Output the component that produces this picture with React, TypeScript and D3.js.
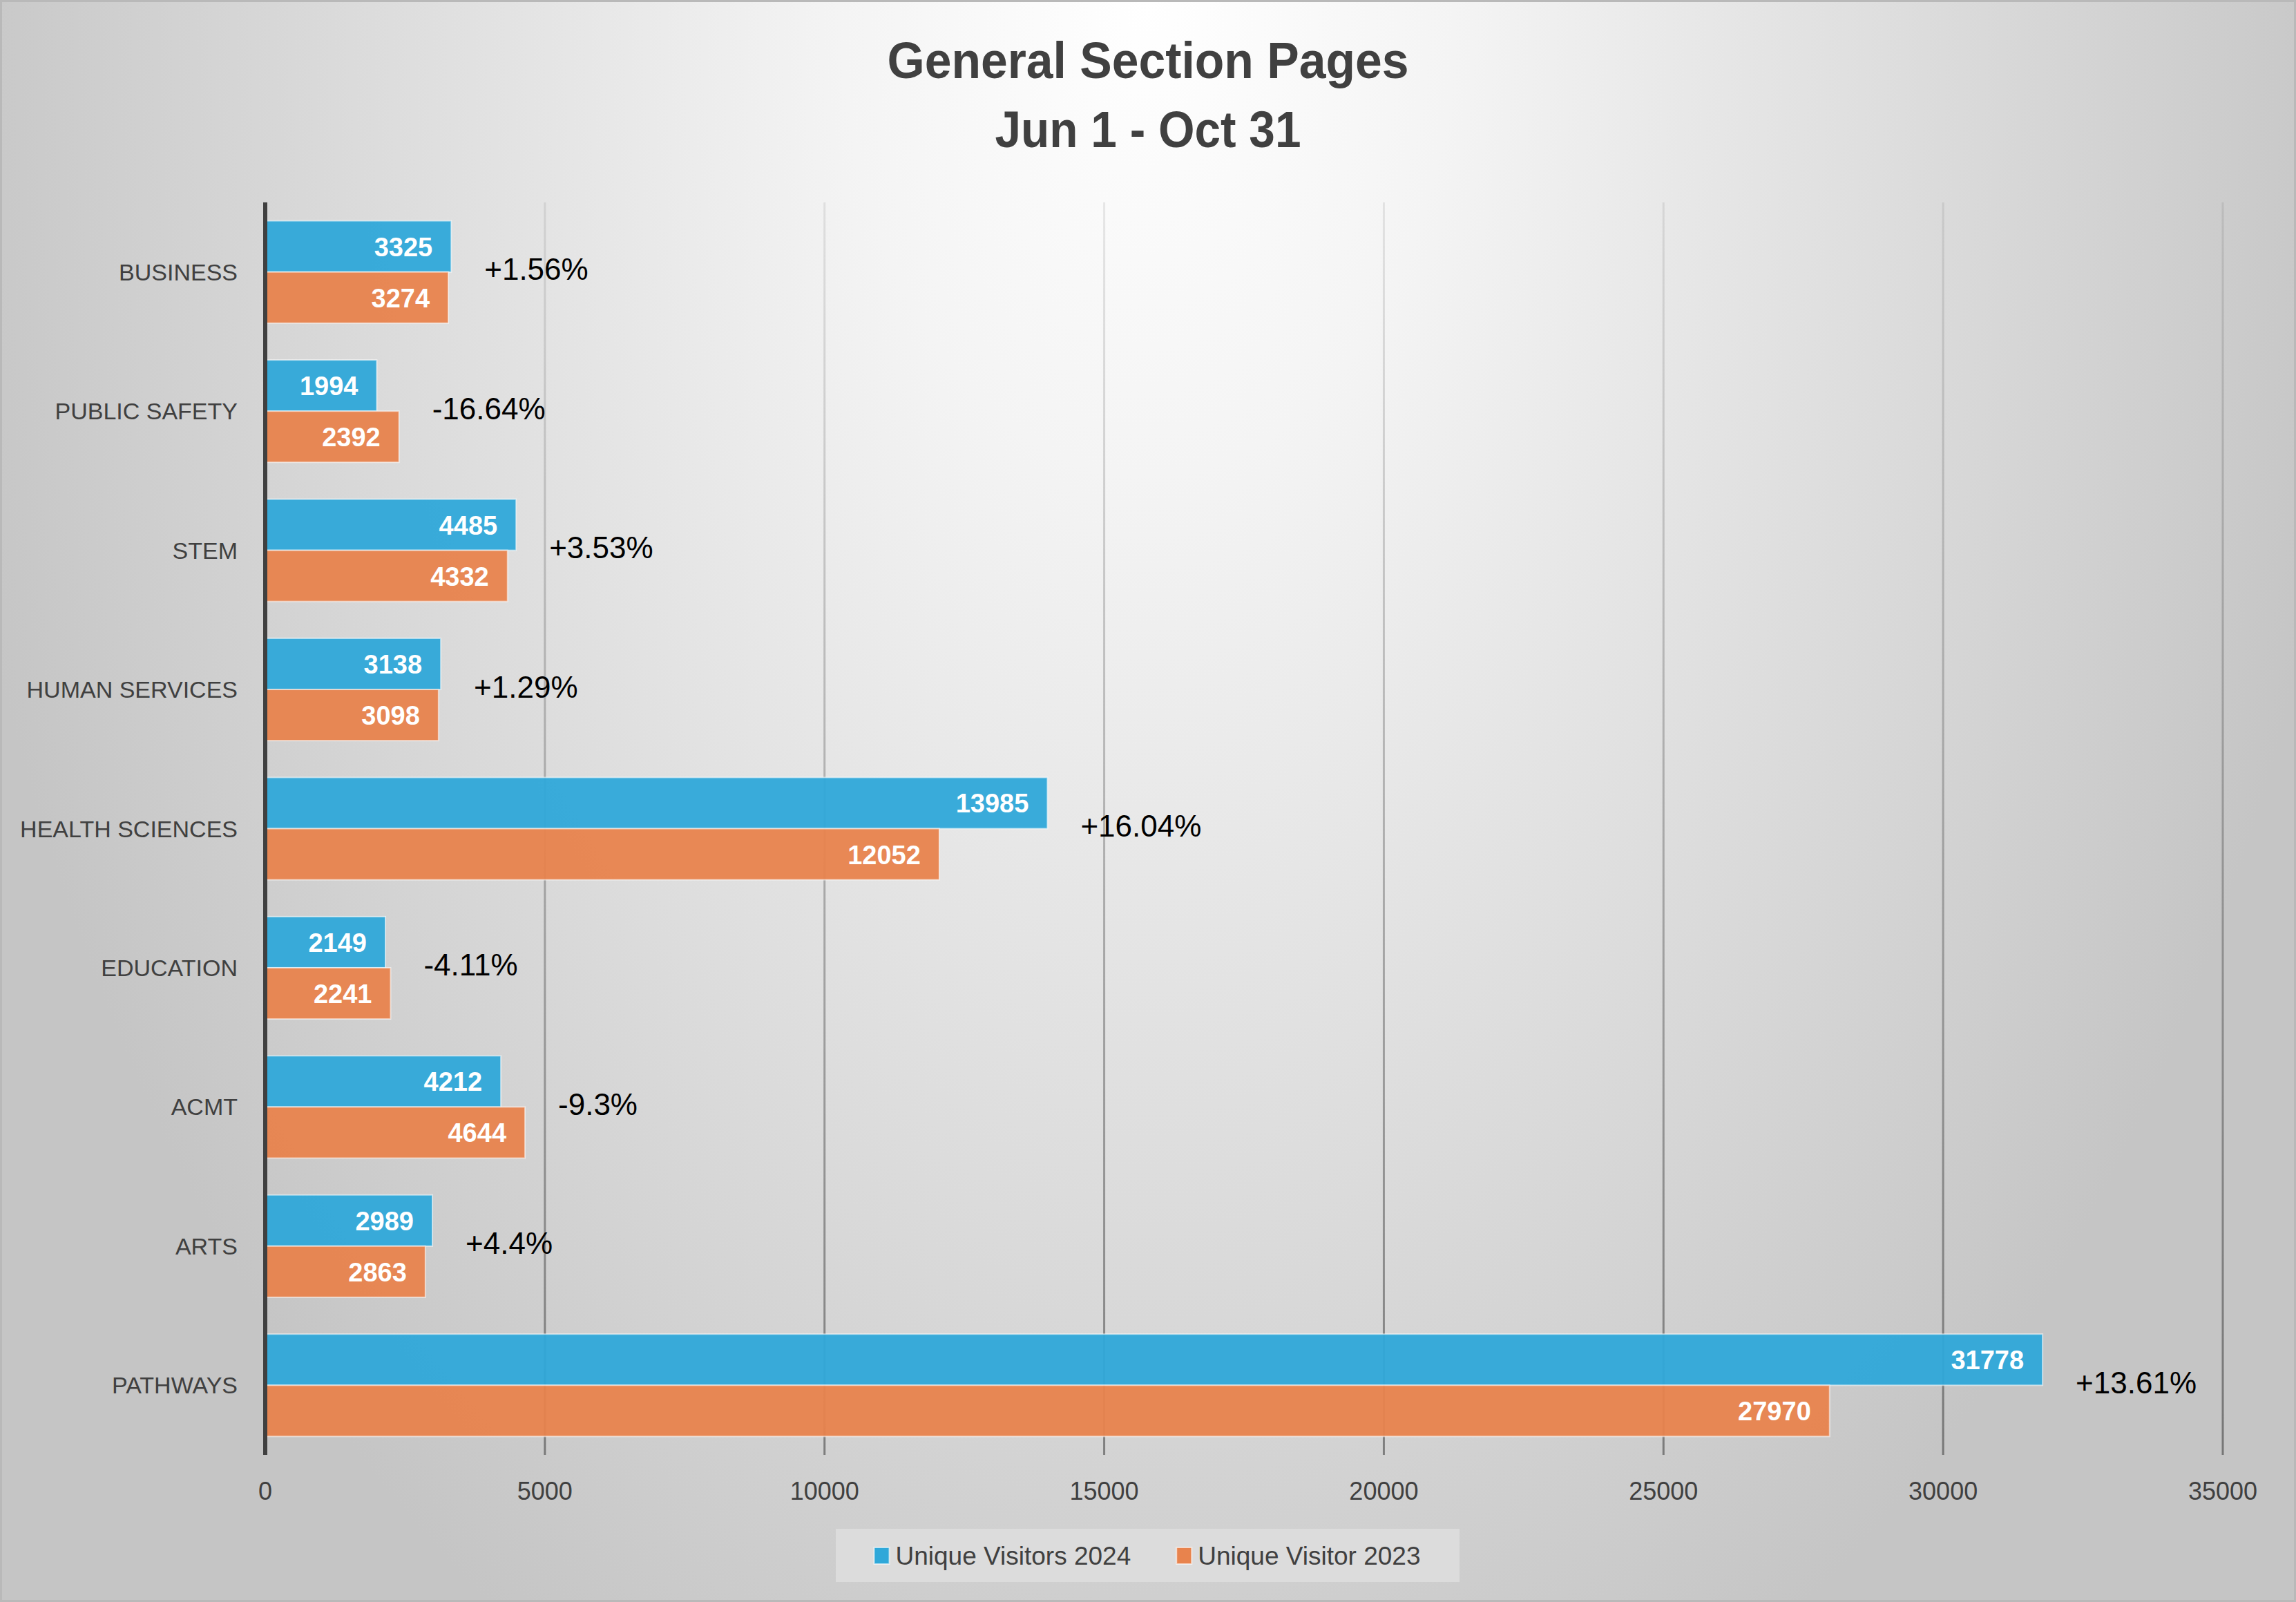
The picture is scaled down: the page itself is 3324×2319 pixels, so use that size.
import React, { useEffect, useRef } from "react";
import * as d3 from "d3";

const categories = [
  "BUSINESS",
  "PUBLIC SAFETY",
  "STEM",
  "HUMAN SERVICES",
  "HEALTH SCIENCES",
  "EDUCATION",
  "ACMT",
  "ARTS",
  "PATHWAYS",
];
const visitors2024 = [3325, 1994, 4485, 3138, 13985, 2149, 4212, 2989, 31778];
const visitors2023 = [3274, 2392, 4332, 3098, 12052, 2241, 4644, 2863, 27970];
const changeLabels = ["+1.56%", "-16.64%", "+3.53%", "+1.29%", "+16.04%", "-4.11%", "-9.3%", "+4.4%", "+13.61%"];
const xTicks = [0, 5000, 10000, 15000, 20000, 25000, 30000, 35000];
const seriesNames = ["Unique Visitors 2024", "Unique Visitor 2023"];
const seriesColors = ["#2fa8d9", "#e8834d"];
const titleLines = ["General Section Pages", "Jun 1 - Oct 31"];

const W = 3324;
const H = 2319;

const App: React.FC = () => {
  const svgRef = useRef<SVGSVGElement>(null);

  useEffect(() => {
    document.body.style.margin = "0";
    if (!svgRef.current) return;
    const svg = d3.select(svgRef.current);
    svg.selectAll("*").remove();

    const left = 384;
    const right = 3218;
    const top = 293;
    const bottom = 2106;
    const font = "'Liberation Sans', Arial, sans-serif";

    const defs = svg.append("defs");
    const bg = defs
      .append("radialGradient")
      .attr("id", "bg")
      .attr("gradientUnits", "userSpaceOnUse")
      .attr("cx", 0)
      .attr("cy", 0)
      .attr("r", 1)
      .attr("gradientTransform", `translate(${W / 2},0) scale(1780,2750)`);
    bg.append("stop").attr("offset", 0).attr("stop-color", "#ffffff");
    bg.append("stop").attr("offset", 0.25).attr("stop-color", "#f4f4f4");
    bg.append("stop").attr("offset", 0.6).attr("stop-color", "#dedede");
    bg.append("stop").attr("offset", 1).attr("stop-color", "#c5c5c5");

    const gridGrad = defs
      .append("linearGradient")
      .attr("id", "gridGrad")
      .attr("gradientUnits", "userSpaceOnUse")
      .attr("x1", 0)
      .attr("x2", 0)
      .attr("y1", top)
      .attr("y2", bottom);
    gridGrad.append("stop").attr("offset", 0).attr("stop-color", "#000").attr("stop-opacity", 0.08);
    gridGrad.append("stop").attr("offset", 1).attr("stop-color", "#000").attr("stop-opacity", 0.4);

    svg.append("rect").attr("width", W).attr("height", H).attr("fill", "url(#bg)");
    svg
      .append("rect")
      .attr("x", 1.5)
      .attr("y", 1.5)
      .attr("width", W - 3)
      .attr("height", H - 3)
      .attr("fill", "none")
      .attr("stroke", "#b9b9b9")
      .attr("stroke-width", 3);

    // Title (condensed look via textLength)
    const titleWidths = [755, 443];
    titleLines.forEach((line, i) => {
      svg
        .append("text")
        .attr("x", W / 2)
        .attr("y", 113 + i * 100)
        .attr("text-anchor", "middle")
        .attr("fill", "#404040")
        .attr("textLength", titleWidths[i])
        .attr("lengthAdjust", "spacingAndGlyphs")
        .style("font-family", font)
        .style("font-weight", "700")
        .style("font-size", "75px")
        .text(line);
    });

    const x = d3.scaleLinear().domain([0, 35000]).range([left, right]);
    const y = d3.scaleBand<string>().domain(categories).range([top, bottom]).padding(0);
    const sub = d3
      .scaleBand<number>()
      .domain([0, 1])
      .range([0, y.bandwidth()])
      .paddingInner(0)
      .paddingOuter(0.36);

    // Gridlines
    svg
      .append("g")
      .selectAll("line")
      .data(xTicks.filter((t) => t > 0))
      .enter()
      .append("line")
      .attr("x1", (d) => x(d))
      .attr("x2", (d) => x(d))
      .attr("y1", top)
      .attr("y2", bottom)
      .attr("stroke", "url(#gridGrad)")
      .attr("stroke-width", 3);

    // Tick labels
    svg
      .append("g")
      .selectAll("text")
      .data(xTicks)
      .enter()
      .append("text")
      .attr("x", (d) => x(d))
      .attr("y", 2158)
      .attr("text-anchor", "middle")
      .attr("dominant-baseline", "central")
      .attr("fill", "#404040")
      .style("font-family", font)
      .style("font-size", "36px")
      .text((d) => String(d));

    // Bars
    const series = [visitors2024, visitors2023];
    series.forEach((vals, si) => {
      const g = svg.append("g");
      g.selectAll("rect")
        .data(vals)
        .enter()
        .append("rect")
        .attr("x", x(0))
        .attr("y", (_, i) => (y(categories[i]) as number) + (sub(si) as number))
        .attr("width", (d) => x(d) - x(0))
        .attr("height", sub.bandwidth())
        .attr("fill", seriesColors[si])
        .attr("fill-opacity", 0.95)
        .attr("stroke", "rgba(255,255,255,0.55)")
        .attr("stroke-width", 2);

      g.selectAll("text")
        .data(vals)
        .enter()
        .append("text")
        .attr("x", (d) => x(d) - 27)
        .attr("y", (_, i) => (y(categories[i]) as number) + (sub(si) as number) + sub.bandwidth() / 2 + 1)
        .attr("text-anchor", "end")
        .attr("dominant-baseline", "central")
        .attr("fill", "#ffffff")
        .style("font-family", font)
        .style("font-weight", "700")
        .style("font-size", "38px")
        .text((d) => String(d));
    });

    // Axis line
    svg
      .append("line")
      .attr("x1", x(0))
      .attr("x2", x(0))
      .attr("y1", top)
      .attr("y2", bottom)
      .attr("stroke", "#404040")
      .attr("stroke-width", 6);

    // Category labels
    svg
      .append("g")
      .selectAll("text")
      .data(categories)
      .enter()
      .append("text")
      .attr("x", 344)
      .attr("y", (d) => (y(d) as number) + y.bandwidth() / 2)
      .attr("text-anchor", "end")
      .attr("dominant-baseline", "central")
      .attr("fill", "#404040")
      .style("font-family", font)
      .style("font-size", "34px")
      .text((d) => d);

    // Change labels
    svg
      .append("g")
      .selectAll("text")
      .data(changeLabels)
      .enter()
      .append("text")
      .attr("x", (_, i) => x(Math.max(visitors2024[i], visitors2023[i])) + 48)
      .attr("y", (_, i) => (y(categories[i]) as number) + y.bandwidth() / 2 - 4)
      .attr("dominant-baseline", "central")
      .attr("fill", "#000000")
      .style("font-family", font)
      .style("font-size", "44px")
      .text((d) => d);

    // Legend
    const legend = svg.append("g");
    legend
      .append("rect")
      .attr("x", 1210)
      .attr("y", 2213)
      .attr("width", 903)
      .attr("height", 77)
      .attr("fill", "#dedede")
      .attr("fill-opacity", 0.85);
    const items = legend.append("g");
    let cx = 0;
    seriesNames.forEach((name, i) => {
      const it = items.append("g").attr("transform", `translate(${cx},0)`);
      it.append("rect")
        .attr("x", 0)
        .attr("y", -12)
        .attr("width", 22)
        .attr("height", 24)
        .attr("fill", seriesColors[i])
        .attr("stroke", "rgba(255,255,255,0.6)")
        .attr("stroke-width", 2);
      const t = it
        .append("text")
        .attr("x", 31)
        .attr("y", 0)
        .attr("dominant-baseline", "central")
        .attr("fill", "#404040")
        .style("font-family", font)
        .style("font-size", "37px")
        .text(name);
      const tw = (t.node() as SVGTextElement).getComputedTextLength();
      cx += 31 + tw + 66;
    });
    const totalW = cx - 66;
    items.attr("transform", `translate(${1661 - totalW / 2},2252)`);
  }, []);

  return <svg ref={svgRef} width={W} height={H} style={{ display: "block" }} />;
};

export default App;
